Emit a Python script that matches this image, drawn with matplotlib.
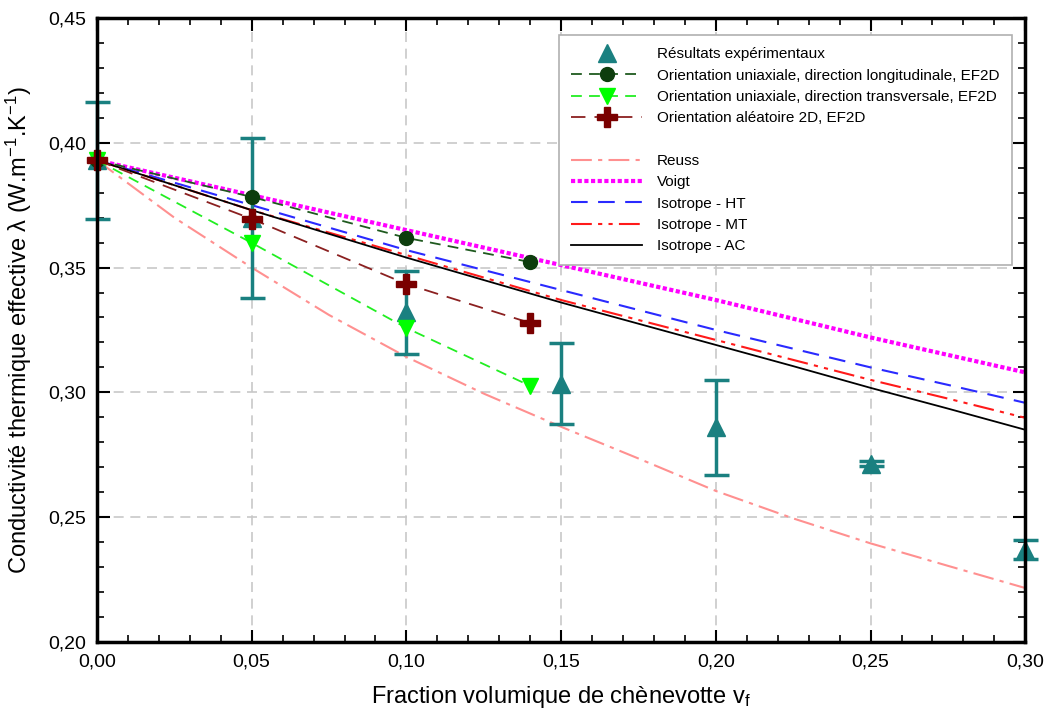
import matplotlib
matplotlib.use("Agg")
import matplotlib.pyplot as plt
from matplotlib.lines import Line2D
from matplotlib.ticker import MultipleLocator

plt.rcParams['font.family'] = ['Liberation Sans', 'DejaVu Sans']
plt.rcParams['mathtext.fontset'] = 'custom'
plt.rcParams['mathtext.rm'] = 'Liberation Sans'
plt.rcParams['mathtext.it'] = 'Liberation Sans'
plt.rcParams['mathtext.default'] = 'regular'

# experimental results
x_exp = [0.00, 0.05, 0.10, 0.15, 0.20, 0.25, 0.30]
y_exp = [0.393, 0.370, 0.332, 0.3035, 0.286, 0.2715, 0.237]
err_exp = [0.0235, 0.032, 0.0165, 0.0163, 0.019, 0.001, 0.0038]

# FE 2D simulations
x_ef = [0.00, 0.05, 0.10, 0.14]
y_long = [0.393, 0.3783, 0.3619, 0.3522]
y_trans = [0.393, 0.3599, 0.3258, 0.3026]
y_rand = [0.393, 0.3695, 0.3434, 0.3278]

# analytical models
x_mod = [0.00, 0.025, 0.05, 0.075, 0.10, 0.125, 0.15, 0.175, 0.20, 0.225, 0.25, 0.275, 0.30]
y_reuss = [0.393, 0.370, 0.350, 0.331, 0.3142, 0.2995, 0.2862, 0.2735, 0.2605, 0.2495, 0.2395, 0.2305, 0.2216]
y_voigt = [0.393, 0.386, 0.379, 0.372, 0.365, 0.358, 0.351, 0.344, 0.337, 0.3295, 0.322, 0.315, 0.308]
y_ht = [0.393, 0.384, 0.375, 0.366, 0.357, 0.349, 0.341, 0.333, 0.325, 0.3175, 0.310, 0.303, 0.2958]
y_mt = [0.393, 0.383, 0.373, 0.364, 0.355, 0.346, 0.337, 0.329, 0.321, 0.313, 0.305, 0.2975, 0.2898]
y_ac = [0.393, 0.383, 0.373, 0.3635, 0.354, 0.345, 0.336, 0.3275, 0.319, 0.3105, 0.3018, 0.2935, 0.285]

xtick_vals = [0.00, 0.05, 0.10, 0.15, 0.20, 0.25, 0.30]
xtick_labels = ['0,00', '0,05', '0,10', '0,15', '0,20', '0,25', '0,30']
ytick_vals = [0.20, 0.25, 0.30, 0.35, 0.40, 0.45]
ytick_labels = ['0,20', '0,25', '0,30', '0,35', '0,40', '0,45']

teal = '#1a8080'

fig = plt.figure(figsize=(10.47, 7.16), dpi=100)
ax = fig.add_axes([0.0926, 0.1034, 0.8867, 0.8715])

l_reuss, = ax.plot(x_mod, y_reuss, color='#ff9090', lw=1.5, dashes=[10, 3, 2, 3], label='Reuss')
l_voigt, = ax.plot(x_mod, y_voigt, color='#ff00ff', lw=3, linestyle=(0, (1, 0.6)), label='Voigt')
l_ht, = ax.plot(x_mod, y_ht, color='#2a2aff', lw=1.5, dashes=[8, 5], label='Isotrope - HT')
l_mt, = ax.plot(x_mod, y_mt, color='#ff1a1a', lw=1.5, dashes=[10, 3, 2, 3, 2, 3], label='Isotrope - MT')
l_ac, = ax.plot(x_mod, y_ac, color='black', lw=1.3, label='Isotrope - AC')

ax.errorbar(x_exp, y_exp, yerr=err_exp, fmt='none', ecolor=teal, elinewidth=2.5,
            capsize=9, capthick=2.5, zorder=3, clip_on=False)
l_exp, = ax.plot(x_exp, y_exp, linestyle='none', marker='^', markersize=13, color=teal,
                 label='Résultats expérimentaux', zorder=4, clip_on=False)

l_long, = ax.plot(x_ef, y_long, color='#1f5a1f', lw=1.3, dashes=[6, 4], marker='o',
                  markersize=10, markerfacecolor='#0d3d0d', markeredgecolor='#0d3d0d',
                  label='Orientation uniaxiale, direction longitudinale, EF2D', zorder=5, clip_on=False)
l_trans, = ax.plot(x_ef, y_trans, color='#22ee22', lw=1.3, dashes=[6, 4], marker='v',
                   markersize=11, markerfacecolor='#00ff00', markeredgecolor='#00ff00',
                   label='Orientation uniaxiale, direction transversale, EF2D', zorder=5, clip_on=False)
l_rand, = ax.plot(x_ef, y_rand, color='#8b2020', lw=1.3, dashes=[8, 5], marker='P',
                  markersize=14, markerfacecolor='#7a0000', markeredgecolor='#7a0000',
                  label='Orientation aléatoire 2D, EF2D', zorder=6, clip_on=False)

ax.set_xlim(0, 0.30)
ax.set_ylim(0.20, 0.45)
ax.set_xticks(xtick_vals)
ax.set_xticklabels(xtick_labels)
ax.set_yticks(ytick_vals)
ax.set_yticklabels(ytick_labels)
ax.xaxis.set_minor_locator(MultipleLocator(0.01))
ax.yaxis.set_minor_locator(MultipleLocator(0.01))
ax.tick_params(which='both', direction='in', top=True, right=True, labelsize=14, pad=8)
ax.tick_params(which='major', length=9, width=1.5)
ax.tick_params(which='minor', length=5, width=1.2)
for s in ax.spines.values():
    s.set_linewidth(2.5)
    s.set_zorder(10)
ax.grid(True, which='major', color='#c8c8c8', linestyle=(0, (6, 4)), lw=1.2)
ax.set_axisbelow(True)

ax.set_xlabel('Fraction volumique de chènevotte v$_f$', fontsize=17, labelpad=10)
ax.set_ylabel('Conductivité thermique effective λ (W.m$^{-1}$.K$^{-1}$)', fontsize=17, labelpad=10)

blank = Line2D([], [], linestyle='none', marker=None)
handles = [l_exp, l_long, l_trans, l_rand, blank, l_reuss, l_voigt, l_ht, l_mt, l_ac]
labels = [h.get_label() for h in handles]
labels[4] = ' '
leg = ax.legend(handles, labels, loc='upper right', bbox_to_anchor=(0.9935, 0.985),
                fontsize=11, frameon=True, fancybox=False, framealpha=1,
                edgecolor='#b0b0b0', handlelength=4.6, labelspacing=0.48,
                borderpad=0.8, handletextpad=1.0)
leg.get_frame().set_linewidth(1.2)

fig.savefig('out.png', dpi=100)
